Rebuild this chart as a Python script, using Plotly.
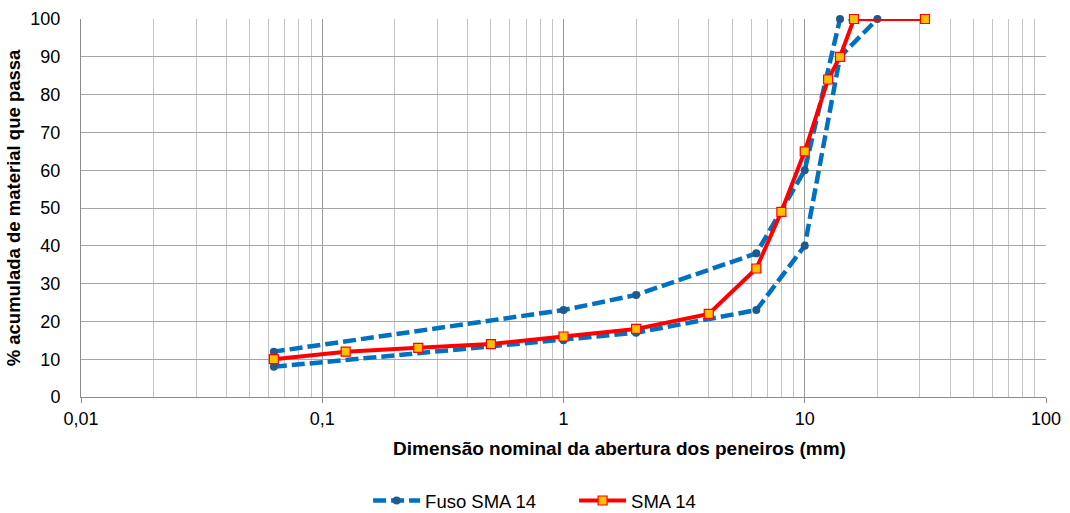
import plotly.graph_objects as go

# Fuso SMA 14: lower limit (fine to coarse), then upper limit (coarse to fine)
fuso_x = [0.063, 1, 2, 6.3, 10, 14, 20, 14, 10, 6.3, 2, 1, 0.063]
fuso_y = [8, 15, 17, 23, 40, 90, 100, 100, 60, 38, 27, 23, 12]

# SMA 14 grading curve
sma_x = [0.063, 0.125, 0.25, 0.5, 1, 2, 4, 6.3, 8, 10, 12.5, 14, 16, 31.5]
sma_y = [10, 12, 13, 14, 16, 18, 22, 34, 49, 65, 84, 90, 100, 100]

x_tickvals = [0.01, 0.1, 1, 10, 100]
x_ticktext = ["0,01", "0,1", "1", "10", "100"]
y_tickvals = list(range(0, 101, 10))

minor_vals = [m * 10 ** e for e in range(-2, 2) for m in range(2, 10)]

x_title = "Dimensão nominal da abertura dos peneiros (mm)"
y_title = "% acumulada de material que passa"

fig = go.Figure()
fig.add_trace(go.Scatter(
    x=fuso_x, y=fuso_y, mode="lines+markers", name="Fuso SMA 14",
    line=dict(color="#0070C0", width=4.5, dash="13px,5px"),
    marker=dict(symbol="circle", size=8, color="#1F5A8E"),
    cliponaxis=False,
))
fig.add_trace(go.Scatter(
    x=sma_x, y=sma_y, mode="lines+markers", name="SMA 14",
    line=dict(color="#FF0000", width=4),
    marker=dict(symbol="square", size=9, color="#FFC000",
                line=dict(color="#FF0000", width=1.2)),
    cliponaxis=False,
))

font = dict(family="Liberation Sans, Arial, sans-serif", color="#000000")

# x-axis title placed as a paper annotation so it can sit right of centre
fig.add_annotation(
    text=f"<b>{x_title}</b>", xref="paper", yref="paper",
    x=0.5585, y=-0.135, xanchor="center", yanchor="middle",
    showarrow=False, font=dict(size=19, **font),
)

fig.update_layout(
    width=1070, height=513,
    margin=dict(l=81, r=24, t=19, b=116, autoexpand=False),
    plot_bgcolor="white", paper_bgcolor="white",
    font=dict(size=18, **font),
    showlegend=True,
    legend=dict(orientation="h", x=0.2975, xanchor="left", y=-0.275, yanchor="middle",
                font=dict(size=18.5, **font), traceorder="normal",
                itemwidth=47, entrywidth=144, entrywidthmode="pixels"),
    xaxis=dict(
        type="log", range=[-2, 2], automargin=False,
        tickmode="array", tickvals=x_tickvals, ticktext=x_ticktext,
        showgrid=True, gridcolor="#999999", gridwidth=1,
        minor=dict(tickmode="array", tickvals=minor_vals, showgrid=True,
                   gridcolor="#C4C4C4", gridwidth=1),
        showline=True, linecolor="#8C8C8C", linewidth=1,
        ticks="outside", ticklen=5, tickcolor="#8C8C8C",
        tickfont=dict(size=18, **font),
        zeroline=False,
    ),
    yaxis=dict(
        range=[0, 100], tickmode="array", tickvals=y_tickvals, automargin=False,
        showgrid=True, gridcolor="#A6A6A6", gridwidth=1,
        showline=True, linecolor="#8C8C8C", linewidth=1,
        ticks="", ticklabelstandoff=16,
        tickfont=dict(size=18, **font),
        title=dict(text=f"<b>{y_title}</b>",
                   font=dict(size=18.5, **font), standoff=4),
        zeroline=False,
    ),
)

fig.write_html("out.html")
